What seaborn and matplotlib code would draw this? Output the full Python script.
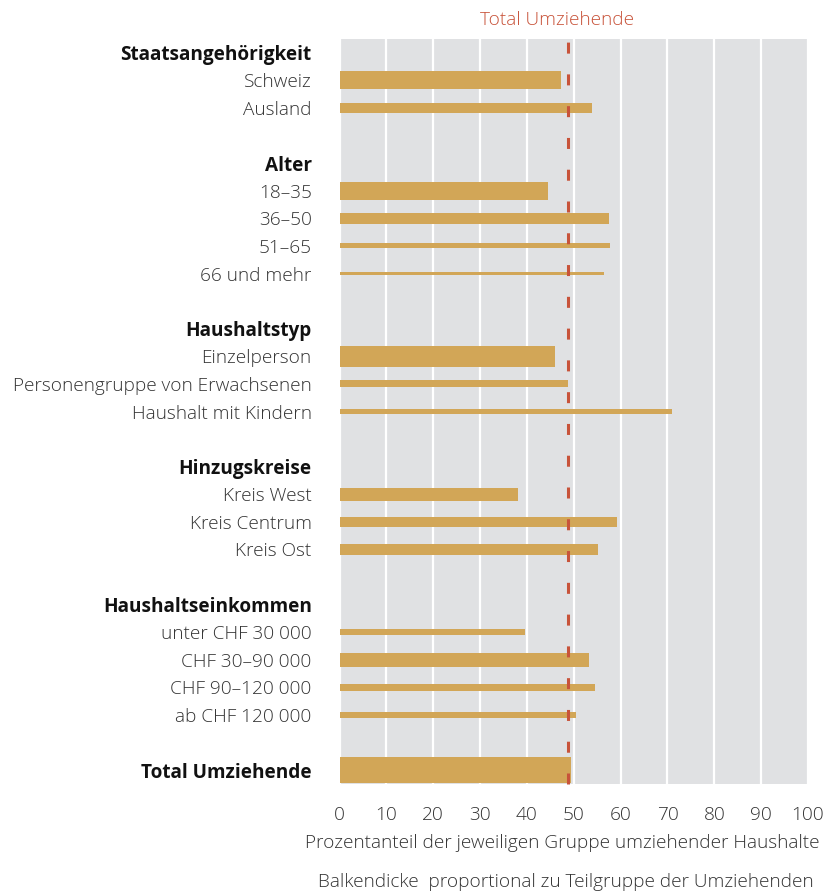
import numpy as np
import pandas as pd
import matplotlib
matplotlib.use("Agg")
import matplotlib.pyplot as plt
import seaborn as sns

# ---- data ----
groups = ["Staatsangehörigkeit", "Alter", "Haushaltstyp", "Hinzugskreise", "Haushaltseinkommen"]
categories = [
    ["Schweiz", "Ausland"],
    ["18–35", "36–50", "51–65", "66 und mehr"],
    ["Einzelperson", "Personengruppe von Erwachsenen", "Haushalt mit Kindern"],
    ["Kreis West", "Kreis Centrum", "Kreis Ost"],
    ["unter CHF 30 000", "CHF 30–90 000", "CHF 90–120 000", "ab CHF 120 000"],
]
values = [
    [47.2, 53.8],
    [44.4, 57.6, 57.7, 56.4],
    [46.1, 48.7, 70.9],
    [38.2, 59.3, 55.1],
    [39.5, 53.2, 54.5, 50.4],
]
# share of subgroup (relative thickness, Total = 100)
shares = [
    [70, 42],
    [69, 40, 19, 10],
    [81, 27, 23],
    [50, 37, 40],
    [24, 53, 27, 23],
]
total_label = "Total Umziehende"
total_value = 49.5
total_line = 48.8
total_share = 100
xticks = list(range(0, 101, 10))

# ---- build rows ----
rows = []  # (label, value, share, bold)
blank = 0
for gi, g in enumerate(groups):
    rows.append((g, np.nan, np.nan, True))
    for c, v, s in zip(categories[gi], values[gi], shares[gi]):
        rows.append((c, v, s, False))
    blank += 1
    rows.append((" " * blank, np.nan, np.nan, False))
rows.append((total_label, total_value, total_share, True))

order = [r[0] for r in rows]
df = pd.DataFrame([r for r in rows if not np.isnan(r[1])],
                  columns=["label", "value", "share", "bold"])

sns.set_theme(style="white")
plt.rcParams["font.family"] = ["Open Sans", "DejaVu Sans"]

BAR = "#D2A657"
BG = "#E0E1E3"
RED = "#C8533A"
TXT = "#333333"
FS = 13.7
LW = 300

fig = plt.figure(figsize=(8.4, 8.96), dpi=100)
ax = fig.add_axes([339.5 / 840, 1 - 784 / 896, (808 - 339.5) / 840, (784 - 39) / 896])
ax.set_facecolor(BG)

sns.barplot(data=df, x="value", y="label", order=order, color=BAR,
            saturation=1, orient="h", ax=ax, errorbar=None, zorder=3)

share_map = dict(zip(df["label"], df["share"]))
full = 0.94
for p in ax.patches:
    cy = p.get_y() + p.get_height() / 2
    idx = int(round(cy))
    lab = order[idx]
    h = share_map[lab] / 100 * full
    p.set_y(cy - h / 2)
    p.set_height(h)
    p.set_edgecolor("none")

ax.set_xlim(0, 100)
ax.set_ylim(len(order) - 0.5, -0.5)
ax.set_xticks(xticks)
ax.set_xticklabels([str(t) for t in xticks], fontsize=FS, color=TXT, fontweight=LW)
ax.set_yticks(range(len(order)))
ax.set_yticklabels(order, fontsize=FS, color=TXT, fontweight=LW)
for tl, r in zip(ax.get_yticklabels(), rows):
    if r[3]:
        tl.set_fontweight("bold")
        tl.set_color("#111111")
ax.tick_params(axis="y", length=0, pad=20)
ax.tick_params(axis="x", length=0, pad=16)
ax.set_xlabel("")
ax.set_ylabel("")
for s in ax.spines.values():
    s.set_visible(False)
ax.grid(axis="x", color="white", linewidth=1.6, zorder=1)
ax.set_axisbelow(True)

ax.axvline(total_line, ymin=0, ymax=1.007, color=RED, linewidth=2.2,
           dashes=(3.6, 6.8), clip_on=False, zorder=5)

fig.text(557 / 840, 1 - 20 / 896, "Total Umziehende", color=RED, fontsize=FS,
         fontweight=LW, ha="center", va="center")
fig.text(562 / 840, 1 - 843 / 896,
         "Prozentanteil der jeweiligen Gruppe umziehender Haushalte",
         color=TXT, fontsize=FS, fontweight=LW, ha="center", va="center")
fig.text(566 / 840, 1 - 882 / 896,
         "Balkendicke  proportional zu Teilgruppe der Umziehenden",
         color=TXT, fontsize=FS, fontweight=LW, ha="center", va="center")

fig.savefig("out.png", dpi=100, facecolor="white")
